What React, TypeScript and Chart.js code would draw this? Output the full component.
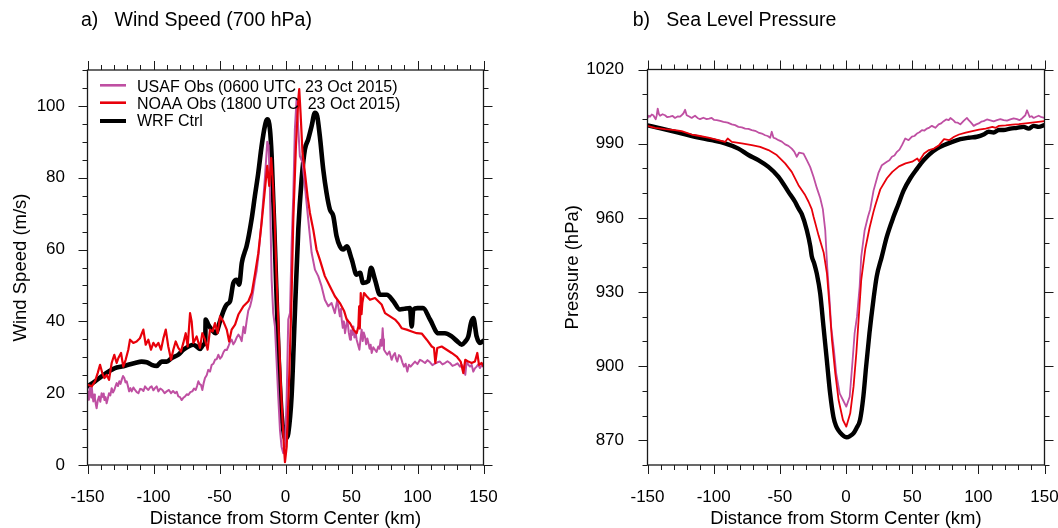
import React, { useEffect, useRef } from 'react';
import { Chart, registerables } from 'chart.js';

Chart.register(...registerables);

const FONT = "'Liberation Sans', Arial, Helvetica, sans-serif";
const MAGENTA = '#BF4FA2';
const RED = '#E8000A';
const BLACK = '#000000';

const distTicks = [-150, -100, -50, 0, 50, 100, 150];
const windTicks = [0, 20, 40, 60, 80, 100];
const slpTicks = [870, 900, 930, 960, 990, 1020];

const legendLabels = [
  'USAF Obs (0600 UTC  23 Oct 2015)',
  'NOAA Obs (1800 UTC  23 Oct 2015)',
  'WRF Ctrl',
];

// ---- a) Wind speed at 700 hPa (m/s) vs distance (km)
const usafWind: [number, number][] = [
  [-150, 20.5], [-149.5, 18.2], [-148.9, 19.1], [-148.3, 21.5], [-147.8, 20.6], [-147.2, 18.8], [-146.8, 21.9],
  [-146.2, 19.5], [-145.6, 17.7], [-145, 19.6], [-144.4, 18.6], [-143.7, 16.9], [-143.1, 15.8], [-142.2, 18],
  [-141.3, 19.1], [-140.3, 17.6], [-139.3, 20], [-138.7, 19.2], [-138.2, 18.9], [-137.7, 19.9], [-137.2, 18.1],
  [-136.3, 18.9], [-135.5, 17.2], [-134.6, 18.5], [-133.7, 20], [-132.7, 19.4], [-131.7, 21.4], [-130.7, 20.2],
  [-129.7, 20.9], [-128.8, 21.9], [-127.9, 22.8], [-126.9, 22], [-125.9, 23.3], [-125, 22.6], [-124.1, 23.7],
  [-123.1, 24.8], [-122.1, 24.2], [-121.2, 23], [-120.3, 23.3], [-119.4, 22], [-118.5, 20.5], [-117.5, 21.4],
  [-116.5, 20.5], [-115.2, 21.6], [-114, 20.9], [-112.7, 20.3], [-111.4, 20], [-110.1, 21.2], [-108.9, 21.1],
  [-107.6, 20.6], [-106.4, 21.9], [-105.1, 21.3], [-103.9, 20.9], [-102.6, 21.6], [-101.4, 21.9], [-100.1, 20.8],
  [-98.9, 21.4], [-97.6, 21.9], [-96.3, 20.5], [-94.8, 21.3], [-93.3, 20.9], [-91.6, 20], [-90, 20.5],
  [-88.3, 20.9], [-86.7, 20], [-85.2, 20.6], [-83.7, 20], [-82.4, 20.4], [-81.2, 19.1], [-79.9, 18.9],
  [-78.7, 18.1], [-77.4, 18.7], [-76.1, 19.1], [-74.8, 19.7], [-73.6, 19.5], [-72.1, 20.3], [-70.6, 20.5],
  [-69.3, 21.3], [-68, 20.9], [-67, 22], [-66, 23.3], [-65, 22.5], [-64, 22.3], [-63, 20.9], [-62, 22.8],
  [-61, 24.2], [-59.7, 25], [-58.5, 26.5], [-57.2, 26], [-55.9, 27.9], [-54.6, 28.2], [-53.4, 29.3],
  [-52.1, 29.5], [-50.9, 30.7], [-49.6, 29.6], [-48.3, 30.2], [-47, 31.4], [-45.8, 32.1], [-44.5, 32],
  [-43.3, 33], [-42, 34.3], [-40.8, 34.9], [-39.5, 33.6], [-38.2, 34.4], [-37, 35.5], [-35.7, 36.3],
  [-34.4, 35.6], [-33.2, 34.5], [-31.8, 38.5], [-30.7, 36.7], [-29.4, 40.2], [-28.2, 43], [-26.9, 44.1],
  [-25.6, 46], [-24.4, 48.6], [-23.2, 51.5], [-21.9, 54], [-20.6, 58], [-18.1, 68], [-15.6, 80], [-13.8, 90],
  [-12.8, 89], [-11.8, 76.7], [-10.5, 51.6], [-9.3, 42.3], [-8, 38.6], [-6.7, 28.4], [-5.5, 19.1], [-4.2, 9.8],
  [-3, 5.1], [-1.7, 3.3], [-0.4, 5.1], [0.9, 19.1], [2.1, 40.5], [3.4, 42.3], [4.6, 60.9], [5.9, 74.9],
  [7.1, 93.5], [8.4, 101.9], [9.7, 93.5], [10.9, 86], [12.9, 84.2], [14.7, 77.7], [17.2, 68.4], [19.8, 59.1],
  [22.3, 54.4], [24.8, 52.6], [27.3, 49.8], [29.8, 46], [32.4, 44.2], [34.9, 45.1], [37.4, 42.3], [39.2, 46],
  [41.2, 41.4], [42, 43.5], [42.6, 40.5], [43.4, 38.2], [44.2, 40], [45.1, 36.7], [46, 38.8], [46.9, 40.5],
  [47.9, 37], [48.9, 34.9], [49.6, 37.5], [50.4, 36.2], [51.4, 38.6], [52.2, 35.5], [53, 37.2], [53.9, 34.9],
  [55, 33.4], [56, 32.1], [56.8, 35], [57.7, 37.7], [58.5, 34.5], [59.3, 36.9], [60.2, 35.8], [61.1, 33.6],
  [62, 35.2], [62.8, 34], [63.7, 32.4], [64.5, 33.5], [65.3, 31.2], [66.5, 32.8], [67.8, 32.1], [69, 31.5],
  [70.3, 33], [71.2, 32.4], [72.1, 34.9], [72.9, 33.2], [73.6, 38.1], [74.1, 35], [74.6, 32.1], [75.8, 31.4],
  [77.1, 30.7], [78.7, 31.6], [80.4, 29.3], [81.6, 30.5], [82.9, 31.2], [83.8, 29.6], [84.7, 28.8], [86, 30.6],
  [87.2, 30.2], [88.5, 28.6], [89.8, 27.4], [91, 28.2], [92.3, 26], [93.5, 27.9], [94.8, 27.4], [96.4, 28.1],
  [98.1, 28.8], [100, 28.1], [101.9, 29.3], [103.8, 28.9], [105.7, 28.4], [107.6, 29.2], [109.5, 28.6],
  [111.3, 27.8], [113.2, 28.2], [115.1, 28.6], [117, 28.8], [118.9, 28], [120.8, 28.4], [122.7, 28.9],
  [124.6, 28.4], [126.5, 27.6], [128.4, 27.9], [130.3, 28.3], [132.2, 27.4], [133.7, 27.8], [135.2, 27],
  [136.2, 25.1], [137.2, 28.8], [138.5, 27.9], [139.8, 27.4], [141, 27.9], [142.3, 26], [143.5, 26.9],
  [144.8, 27.4], [146, 28], [147.3, 27], [148.6, 27.8], [150, 27.4],
];

const noaaWind: [number, number][] = [
  [-150, 22.3], [-149.4, 22.3], [-146.8, 21.9], [-144.3, 23.3], [-142.3, 25.6], [-140.5, 27.9], [-138.8, 25.6],
  [-137.2, 24.2], [-135.5, 25.1], [-133.7, 23.7], [-131.7, 28.4], [-129.7, 30.7], [-127.9, 28.4], [-126.6, 29.8],
  [-124.6, 31.2], [-122.9, 27.4], [-121.1, 29.3], [-119.1, 32.1], [-117.8, 34.9], [-115.3, 34], [-112.8, 34.4],
  [-110.3, 35.3], [-107.7, 37.7], [-105.9, 33.5], [-103.9, 34.9], [-101.9, 32.1], [-100.1, 34], [-98.3, 33],
  [-96.3, 34], [-94.3, 32.1], [-92.5, 35.3], [-90.7, 37.7], [-88.8, 33], [-86.7, 29.3], [-85, 32.1], [-83.2, 34.4],
  [-81.2, 32.6], [-79.2, 31.6], [-77.4, 34], [-75.6, 36.7], [-74.1, 33], [-72.3, 42.3], [-71.1, 40], [-69.8, 34],
  [-67.3, 35.8], [-64.8, 32.6], [-63, 36.7], [-61, 34.9], [-59, 32.1], [-57.2, 37.7], [-55.2, 37.2], [-53.4, 39.5],
  [-51.4, 36.7], [-49.6, 41.4], [-47.1, 40], [-44.5, 37.7], [-42.7, 34.4], [-40.8, 37.7], [-38.2, 39.1],
  [-35.7, 41.9], [-31.9, 44.2], [-28.1, 45.6], [-25.5, 48], [-23.2, 53], [-20.6, 59], [-18.1, 67.4], [-15.6, 76.7],
  [-13.8, 83.3], [-12.3, 77.7], [-10.8, 85.5], [-9.3, 77], [-8.2, 68], [-6.7, 51.6], [-4.7, 33], [-3, 18.1],
  [-1.2, 5.1], [-0.4, 0.8], [0.9, 5.1], [2.9, 25.6], [4.6, 47], [5.9, 68.4], [7.9, 88.8], [9.7, 101.9],
  [10.4, 104.7], [11.4, 98.1], [12.9, 86.9], [14.7, 81.4], [16.7, 74.9], [18.5, 70.2], [21, 65.6], [23.5, 60],
  [26, 57.2], [29.8, 52.6], [33.6, 49.8], [37.4, 47], [41.2, 45.1], [44.5, 42.8], [46.4, 40.5], [48.9, 39.5],
  [51.4, 37.7], [53.9, 36.7], [55.2, 38.6], [55.8, 44.2], [56.3, 38], [57, 47.9], [57.6, 42], [58.2, 45.1],
  [59.5, 47.9], [61.5, 47], [64, 46], [67.8, 46.5], [70.3, 45.6], [72.8, 44.7], [75.4, 42.3], [79.2, 41.4],
  [83, 40.5], [85.5, 39.5], [88, 38.1], [91.8, 37.7], [95.6, 37.2], [99.4, 36.7], [103.2, 36.6], [107, 34.9],
  [110.8, 33], [112.5, 32.6], [113.5, 28.4], [115, 32.6], [118.3, 33], [122.1, 32.1], [125.9, 31.2], [129.7, 30.2],
  [132.7, 28.8], [134.7, 25.6], [136.2, 29.3], [138.5, 28.8], [141, 28.4], [143.5, 28.8], [145.3, 31.2],
  [146.6, 27.9], [148.6, 28.4], [150, 27.4],
];

const wrfWind: [number, number][] = [
  [-150, 21.9], [-144.3, 23.3], [-139.3, 24.7], [-134.2, 26], [-129.2, 27], [-124.1, 27.4], [-119.1, 27.9],
  [-114, 28.4], [-109, 28.8], [-105.2, 28.6], [-101.4, 27.9], [-97.6, 27.6], [-93.8, 28.8], [-90, 28.8],
  [-86.2, 29.8], [-81.2, 30.7], [-77.4, 32.1], [-73.6, 33], [-69.8, 33.5], [-67.3, 33], [-64.8, 32.3],
  [-62.2, 33.5], [-60.8, 34.5], [-60.5, 40.5], [-58.5, 39.1], [-55.9, 37.7], [-52.9, 36.7], [-49.6, 40],
  [-47.1, 42.8], [-44.5, 44.7], [-42, 45.6], [-39.5, 50.7], [-37, 51.6], [-35.1, 50.2], [-33.1, 56.3],
  [-31.1, 59.1], [-29.5, 60.9], [-25.7, 68.4], [-23.2, 74.9], [-20.6, 81.4], [-18.1, 88.8], [-15.6, 94.4],
  [-13.8, 96.3], [-11.8, 93.5], [-10.5, 86], [-8, 60.9], [-5.5, 33], [-3, 14.4], [-1.2, 8.5], [-0.4, 7.4],
  [1, 7.6], [2.1, 8.8], [4.6, 19.1], [7.1, 42.3], [9.7, 65.6], [12.2, 79.5], [14.7, 87.9], [17.2, 90.7],
  [19.8, 94.4], [22.3, 98.1], [24, 97.2], [26, 91.6], [28.6, 82.3], [31.1, 75.8], [33.6, 71.2], [36.2, 69.3],
  [38.7, 63.7], [41.2, 60.9], [43.8, 60], [46.4, 60.9], [50.2, 57.2], [53.9, 53], [56.5, 53.5], [58.7, 50.7],
  [62.7, 51.2], [64.8, 54.9], [67.8, 51.6], [71.6, 47.4], [76.7, 47.4], [81.7, 45.6], [86.7, 43.3], [90, 43.5],
  [94.3, 43.7], [95.6, 38.6], [96.8, 43.3], [100, 43.7], [104.2, 43.7], [109.5, 40.5], [115.8, 36.7],
  [120.8, 36.7], [125.9, 35.8], [130, 34.5], [133.5, 33.5], [136, 34.3], [138.5, 35.8], [140.5, 39.5],
  [142.3, 40.9], [144.8, 35.8], [147.3, 34], [150, 34.6],
];

// ---- b) Sea level pressure (hPa) vs distance (km)
const usafSlp: [number, number][] = [
  [-150, 1000.4], [-149, 1001.3], [-148.1, 1000.9], [-146.8, 1001.8], [-145.6, 1001.5], [-144.6, 1000.6],
  [-143.8, 999.9], [-143, 1001.5], [-142.3, 1004.2], [-141.4, 1002], [-140.5, 1001.3], [-138.6, 1001.9],
  [-136.8, 1001.5], [-135, 1000.7], [-133, 1000.9], [-131, 1001.2], [-129.2, 1000.4], [-127.3, 1001],
  [-125.4, 1000.9], [-124, 1001.6], [-122.9, 1002.2], [-121.6, 1003.7], [-120.4, 1001.5], [-118.5, 1001],
  [-116.6, 1000.4], [-115.3, 1000.9], [-114.1, 1001.3], [-112.2, 1000.4], [-110.3, 999.9], [-107.8, 1000.5],
  [-105.3, 999.9], [-103.4, 1000.1], [-101.5, 1000.4], [-99.6, 999.6], [-97.7, 999.5], [-95.1, 999.2],
  [-92.6, 998.8], [-89.4, 998.5], [-86.3, 997.8], [-83.8, 997.5], [-81.3, 996.8], [-78.7, 996.6], [-76.2, 996.1],
  [-73.7, 996], [-71.2, 995.5], [-68.7, 995.2], [-66.2, 994.5], [-63.6, 994.1], [-61.1, 993.4], [-59.2, 993.1],
  [-57.3, 992.4], [-56.1, 994.8], [-54.8, 992.4], [-52.9, 992], [-51, 991.4], [-48.5, 990.8], [-46, 989.7],
  [-43.5, 989.1], [-41, 988], [-39.1, 986.8], [-37.2, 984.7], [-35.4, 986.4], [-33.7, 986.2], [-32.1, 986],
  [-29.6, 983.3], [-27.1, 980.6], [-24.5, 976.5], [-22, 972], [-19.5, 968], [-17.5, 963.5], [-15.7, 955],
  [-14.2, 940.2], [-12.4, 926.7], [-11.2, 915.9], [-9.1, 906.5], [-7.4, 897.1], [-4.8, 889], [-2.3, 886.3],
  [0.2, 883.6], [2.8, 887.6], [4.8, 901.1], [6.5, 913.2], [8.3, 920], [10.3, 932.1], [11.5, 944.2], [14.1, 955],
  [16.6, 960.4], [18.3, 963.5], [20.8, 971], [24.6, 978.3], [27.1, 981.3], [30.9, 982.7], [32.8, 983.3],
  [34.7, 984.7], [36.6, 985.2], [38.5, 986.7], [40.4, 987.6], [42.3, 989.4], [44.8, 992.1], [47.3, 991.4],
  [49.8, 992.8], [51.7, 993.1], [53.6, 994.1], [55.5, 994.6], [57.4, 995.5], [59.3, 995.3], [61.2, 996.1],
  [63, 996.5], [64.9, 997.2], [67.5, 996.4], [70, 997.8], [71.9, 998.2], [73.8, 999.1], [75.7, 999.8],
  [77.6, 999.5], [78.9, 1000.4], [80.1, 999.9], [81.4, 999.3], [82.6, 998.6], [84.5, 998.5], [86.4, 997.8],
  [88.9, 999.2], [91.4, 1000.4], [92.7, 999.5], [94, 998.8], [95.3, 998], [96.5, 997.2], [98.4, 997.8],
  [100.3, 998.2], [102.2, 998.9], [104, 999.1], [106.5, 999.8], [109.1, 999.4], [111.6, 999], [114.1, 999.5],
  [116.6, 999.9], [119.1, 999.5], [121.7, 999.3], [124.2, 999.8], [126.7, 1000.2], [129.2, 999.9],
  [131.1, 999.5], [133, 1000.2], [135.5, 1001.5], [136.8, 1003.5], [138.8, 1000.8], [140.3, 1001.1],
  [141.8, 1000.4], [143.7, 1000.9], [145.6, 1001.3], [147.8, 1000.7], [150, 1000.4],
];

const noaaSlp: [number, number][] = [
  [-150, 997.2], [-144.3, 996.4], [-136.8, 995.9], [-129.2, 995.5], [-124.2, 995.1], [-116.6, 993.7],
  [-111.5, 993.2], [-104, 992.4], [-96.4, 991.4], [-91.4, 990.7], [-89.4, 992.1], [-86.3, 990.7], [-78.8, 990.1],
  [-71.2, 989.4], [-64.9, 988.7], [-58.6, 987.4], [-52.3, 985.4], [-46, 982], [-41, 978.6], [-35.9, 973.2],
  [-30.9, 969.2], [-28.3, 966.5], [-25.9, 963.5], [-24.5, 960.4], [-20.7, 952.8], [-16.9, 946], [-14.4, 937.5],
  [-12.4, 924], [-10.6, 910.5], [-8.1, 897.1], [-5.6, 886.3], [-2.3, 878.2], [0.2, 875.5], [3.2, 880.9],
  [5.7, 891.7], [7.8, 905.2], [9.5, 918.6], [11.5, 934.8], [14.6, 947.5], [17.8, 956], [20.8, 962.5], [22.1, 965],
  [25.9, 971.5], [30.9, 976], [35, 978.6], [40, 980.8], [45, 982], [50, 982.7], [53.9, 984], [55.2, 982.9],
  [59, 986], [62.7, 987.4], [66.5, 988], [70.3, 989.4], [74.1, 991.8], [77.9, 991.4], [81.7, 992.8],
  [85.4, 993.7], [90.5, 994.5], [95.5, 995.1], [100.5, 995.7], [105.6, 996.1], [110.6, 996.8], [113.1, 996.4],
  [115.6, 997.2], [120.7, 997.4], [125.7, 997.7], [130.7, 997.9], [135.8, 998.2], [142.1, 998.6], [150, 999.1],
];

const wrfSlp: [number, number][] = [
  [-150, 997.4], [-139.3, 996.1], [-126.7, 994.5], [-114.1, 992.8], [-101.5, 991.4], [-91.4, 990.1], [-81.3, 988],
  [-73.7, 985.4], [-66.2, 983.3], [-58.6, 980.6], [-51, 976.6], [-43.5, 970.5], [-38.5, 966.5], [-35.9, 963.8],
  [-33.4, 961.5], [-29.6, 955], [-27, 948.5], [-25.9, 944.5], [-24, 941.5], [-22.1, 937.5], [-19.5, 929.4],
  [-17, 915.9], [-14.5, 902.5], [-12, 889], [-9.5, 879.5], [-7.5, 875.8], [-5.7, 874], [-3, 872.3], [0.5, 871.2],
  [3, 871.7], [5.6, 872.8], [8, 875], [10.6, 878.2], [13.1, 887.6], [15.2, 899.8], [17.7, 913.2], [20.7, 926.7],
  [23.2, 936.2], [27, 944.2], [30.8, 952.3], [35.9, 960.4], [39.6, 965.5], [43.5, 971], [48.6, 976],
  [53.6, 979.8], [58.6, 983.3], [63.7, 986], [68.7, 988], [73.8, 989.4], [80.1, 990.7], [86.4, 991.8],
  [92.7, 992.4], [99, 992.8], [104, 993.7], [107.8, 994.8], [111.6, 994.5], [115.4, 995.5], [119.1, 995.5],
  [124.2, 996.1], [129.2, 996.4], [134.2, 996.8], [138, 996.1], [141.8, 997.2], [145.6, 996.8], [150, 997.5],
];

const toPts = (arr: [number, number][]) => arr.map(([x, y]) => ({ x, y }));

// draws the box frame and outward major/minor tick marks on all four sides
const frameTicks: any = {
  id: 'frameTicks',
  afterDatasetsDraw(chart: any, _args: any, opts: any) {
    const { ctx, chartArea: a, scales } = chart;
    const xs = scales.x;
    const ys = scales.y;
    ctx.save();
    ctx.strokeStyle = '#1a1a1a';
    ctx.lineWidth = 1;
    ctx.beginPath();
    const isMajor = (list: number[], v: number) => list.some((m) => Math.abs(m - v) < 1e-6);
    for (let v = xs.min; v <= xs.max + 1e-6; v += opts.xMinor) {
      const px = Math.round(xs.getPixelForValue(v)) + 0.5;
      const len = isMajor(opts.xMajor, v) ? 9 : 5;
      ctx.moveTo(px, a.bottom);
      ctx.lineTo(px, a.bottom + len);
      ctx.moveTo(px, a.top);
      ctx.lineTo(px, a.top - len);
    }
    for (let v = ys.min; v <= ys.max + 1e-6; v += opts.yMinor) {
      const py = Math.round(ys.getPixelForValue(v)) + 0.5;
      const len = isMajor(opts.yMajor, v) ? 9 : 5;
      ctx.moveTo(a.left, py);
      ctx.lineTo(a.left - len, py);
      ctx.moveTo(a.right, py);
      ctx.lineTo(a.right + len, py);
    }
    ctx.stroke();
    ctx.lineWidth = 1.3;
    ctx.strokeRect(a.left, a.top, a.right - a.left, a.bottom - a.top);
    ctx.restore();
  },
};

const insetLegend: any = {
  id: 'insetLegend',
  afterDatasetsDraw(chart: any, _args: any, opts: any) {
    if (!opts || !opts.items) return;
    const ctx = chart.ctx;
    ctx.save();
    opts.items.forEach((it: any, i: number) => {
      ctx.strokeStyle = it.color;
      ctx.lineWidth = it.width;
      ctx.beginPath();
      ctx.moveTo(opts.x0, opts.lineY[i]);
      ctx.lineTo(opts.x1, opts.lineY[i]);
      ctx.stroke();
      ctx.fillStyle = '#000';
      ctx.font = `${opts.size}px ${FONT}`;
      ctx.textBaseline = 'alphabetic';
      ctx.textAlign = 'left';
      ctx.fillText(it.text, opts.tx, opts.baseY[i]);
    });
    ctx.restore();
  },
};

function makeConfig(p: any): any {
  return {
    type: 'line',
    data: {
      datasets: p.series.map((s: any) => ({
        label: s.label,
        data: toPts(s.data),
        borderColor: s.color,
        backgroundColor: s.color,
        borderWidth: s.width,
        pointRadius: 0,
        tension: s.smooth ? 0.4 : 0,
        cubicInterpolationMode: s.smooth ? 'monotone' : 'default',
        fill: false,
        borderJoinStyle: 'round',
        borderCapStyle: 'round',
      })),
    },
    plugins: [frameTicks, insetLegend],
    options: {
      animation: false,
      responsive: false,
      devicePixelRatio: 1,
      events: [],
      layout: { padding: { top: p.top, right: p.padRight, left: 0, bottom: 0 } },
      plugins: {
        legend: { display: false },
        tooltip: { enabled: false },
        title: { display: false },
        frameTicks: { xMajor: distTicks, xMinor: 10, yMajor: p.yTicks, yMinor: p.yMinor },
        insetLegend: p.legend || {},
      },
      scales: {
        x: {
          type: 'linear',
          min: -150,
          max: 150,
          afterBuildTicks: (s: any) => {
            s.ticks = distTicks.map((v) => ({ value: v }));
          },
          afterFit: (s: any) => {
            s.height = 63;
            s.paddingLeft = 0;
            s.paddingRight = 0;
          },
          grid: { display: false, drawTicks: false },
          border: { display: false },
          ticks: {
            color: '#000',
            font: { family: FONT, size: 17 },
            padding: 22,
            maxRotation: 0,
            autoSkip: false,
            callback: (v: any) => String(v),
          },
          title: {
            display: true,
            text: 'Distance from Storm Center (km)',
            color: '#000',
            font: { family: FONT, size: 18.5, lineHeight: 1 },
            padding: { top: 0, bottom: 0 },
          },
        },
        y: {
          type: 'linear',
          min: p.yMin,
          max: p.yMax,
          afterBuildTicks: (s: any) => {
            s.ticks = p.yTicks.map((v: number) => ({ value: v }));
          },
          afterFit: (s: any) => {
            s.width = p.yAxisWidth;
            s.paddingTop = 0;
            s.paddingBottom = 0;
          },
          grid: { display: false, drawTicks: false },
          border: { display: false },
          ticks: {
            color: '#000',
            font: { family: FONT, size: 17 },
            padding: p.yLabelPad,
            autoSkip: false,
            callback: (v: any) => String(v),
          },
          title: {
            display: true,
            text: p.yTitle,
            color: '#000',
            font: { family: FONT, size: 18.5, lineHeight: 1 },
            padding: { top: p.yTitlePad, bottom: 0 },
          },
        },
      },
    },
  };
}

function PanelChart({ left, config }: { left: number; config: any }) {
  const ref = useRef<HTMLCanvasElement>(null);
  useEffect(() => {
    const chart = new Chart(ref.current as HTMLCanvasElement, config);
    return () => chart.destroy();
  }, []);
  return (
    <canvas
      ref={ref}
      width={529}
      height={528}
      style={{ position: 'absolute', left, top: 0, width: 529, height: 528 }}
    />
  );
}

const windConfig = makeConfig({
  series: [
    { label: 'NOAA', data: noaaWind, color: RED, width: 2.2 },
    { label: 'USAF', data: usafWind, color: MAGENTA, width: 2 },
    { label: 'WRF', data: wrfWind, color: BLACK, width: 4.6, smooth: true },
  ],
  top: 70,
  padRight: 45.5,
  yMin: 0,
  yMax: 110,
  yTicks: windTicks,
  yMinor: 5,
  yAxisWidth: 87.5,
  yLabelPad: 22.5,
  yTitle: 'Wind Speed (m/s)',
  yTitlePad: 12,
  legend: {
    items: [
      { text: legendLabels[0], color: MAGENTA, width: 2.6 },
      { text: legendLabels[1], color: RED, width: 2.6 },
      { text: legendLabels[2], color: BLACK, width: 4 },
    ],
    x0: 100,
    x1: 126,
    tx: 137,
    lineY: [85.3, 102.7, 121],
    baseY: [91.7, 108.7, 126],
    size: 16,
  },
});

const slpConfig = makeConfig({
  series: [
    { label: 'NOAA', data: noaaSlp, color: RED, width: 1.8 },
    { label: 'USAF', data: usafSlp, color: MAGENTA, width: 1.8 },
    { label: 'WRF', data: wrfSlp, color: BLACK, width: 4.4, smooth: true },
  ],
  top: 69.5,
  padRight: 13.5,
  yMin: 860,
  yMax: 1020,
  yTicks: slpTicks,
  yMinor: 10,
  yAxisWidth: 118.5,
  yLabelPad: 23.5,
  yTitle: 'Pressure (hPa)',
  yTitlePad: 34.5,
});

const titleStyle: React.CSSProperties = {
  position: 'absolute',
  top: 10,
  fontSize: 19.5,
  lineHeight: '19.5px',
  whiteSpace: 'pre',
  color: '#000',
  fontFamily: FONT,
};

export default function App() {
  return (
    <div
      style={{
        position: 'fixed',
        left: 0,
        top: 0,
        width: 1058,
        height: 528,
        background: '#fff',
        overflow: 'hidden',
        fontFamily: FONT,
      }}
    >
      <PanelChart left={0} config={windConfig} />
      <PanelChart left={529} config={slpConfig} />
      <div style={{ ...titleStyle, left: 81 }}>a)   Wind Speed (700 hPa)</div>
      <div style={{ ...titleStyle, left: 632.7 }}>b)   Sea Level Pressure</div>
    </div>
  );
}
